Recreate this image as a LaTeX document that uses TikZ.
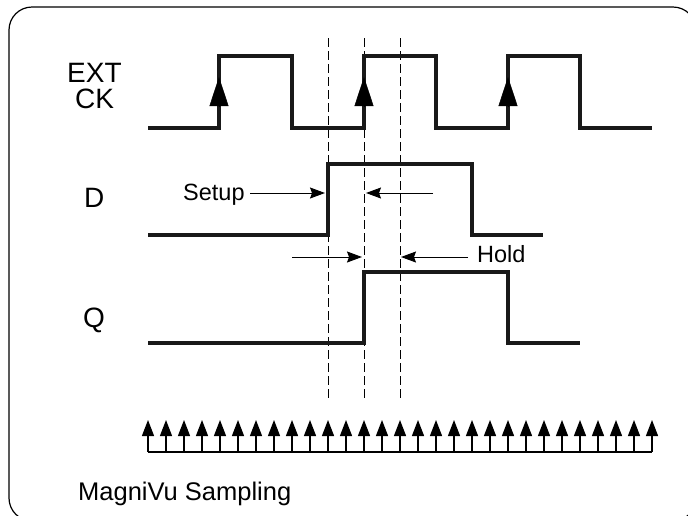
\documentclass[tikz,border=0pt]{standalone}
\usepackage{fontspec}
\setmainfont{Liberation Sans}
\usetikzlibrary{arrows.meta}
\tikzset{
  wave/.style={line width=3.8pt, line join=miter, black!90},
  guide/.style={line width=0.9pt, dash pattern=on 9pt off 4pt},
  dim/.style={line width=1pt, -{Stealth[length=15pt,width=11pt,inset=2pt]}},
  clk/.style={line width=0.5pt, -{Triangle[length=29pt,width=19pt]}},
  samp/.style={line width=1.3pt, -{Triangle[length=16pt,width=12pt]}},
  siglabel/.style={anchor=base west, inner sep=0pt, font=\fontsize{28}{28}\selectfont},
  smalllabel/.style={anchor=base west, inner sep=0pt, font=\fontsize{23.5}{24}\selectfont},
}
\begin{document}
\begin{tikzpicture}[x=1pt,y=-1pt]
\useasboundingbox (0,0) rectangle (688,515);
\begin{scope}
\clip (0,0) rectangle (688,515);
\draw[line width=1.2pt, rounded corners=23pt] (9,7) rectangle (696,521);
\end{scope}

% labels
\node[siglabel] (ext) at (67,82) {EXT};
\node[siglabel] (ck) at (75,108) {CK};
\node[siglabel] (d) at (84,207) {D};
\node[siglabel] (q) at (83,327) {Q};
\node[smalllabel] (setup) at (183,200) {Setup};
\node[smalllabel] (hold) at (477,262) {Hold};
\node[anchor=base west, inner sep=0pt, font=\fontsize{25.5}{26}\selectfont] (mv) at (78,500) {MagniVu Sampling};

% dashed guides
\foreach \x/\n in {328/ga,364/gb,400/gc}{
  \coordinate (\n top) at (\x,38);
  \coordinate (\n bot) at (\x,401);
  \draw[guide] (\n top) -- (\n bot);
}

% EXT CK waveform
\draw[wave] (148,128) -- (219,128) -- (219,56) -- (292,56) -- (292,128)
  -- (364,128) -- (364,56) -- (436,56) -- (436,128)
  -- (508,128) -- (508,56) -- (580,56) -- (580,128) -- (652,128);
\foreach \x/\n in {219/ca,364/cb,508/cc}{
  \coordinate (\n from) at (\x,107);
  \coordinate (\n tip) at (\x,77);
  \draw[clk] (\n from) -- (\n tip);
}

% D waveform
\draw[wave] (148,235) -- (328,235) -- (328,164) -- (472,164) -- (472,235) -- (543,235);

% Q waveform
\draw[wave] (148,343) -- (364,343) -- (364,272) -- (508,272) -- (508,343) -- (580,343);

% setup / hold dimension arrows
\coordinate (s1) at (250,193);
\coordinate (s1t) at (325,193);
\coordinate (s2) at (433,193);
\coordinate (s2t) at (366,193);
\coordinate (h1) at (292,257);
\coordinate (h1t) at (362,257);
\coordinate (h2) at (468,257);
\coordinate (h2t) at (401,257);
\draw[dim] (s1) -- (s1t);
\draw[dim] (s2) -- (s2t);
\draw[dim] (h1) -- (h1t);
\draw[dim] (h2) -- (h2t);

% sampling arrows
\coordinate (bl) at (148,452);
\coordinate (br) at (652,452);
\draw[line width=1.5pt] (bl) -- (br);
\foreach \i in {0,...,28}{
  \coordinate (sb\i) at ({148+18*\i},452);
  \coordinate (st\i) at ({148+18*\i},420);
  \draw[samp] (sb\i) -- (st\i);
}
\end{tikzpicture}
\end{document}
